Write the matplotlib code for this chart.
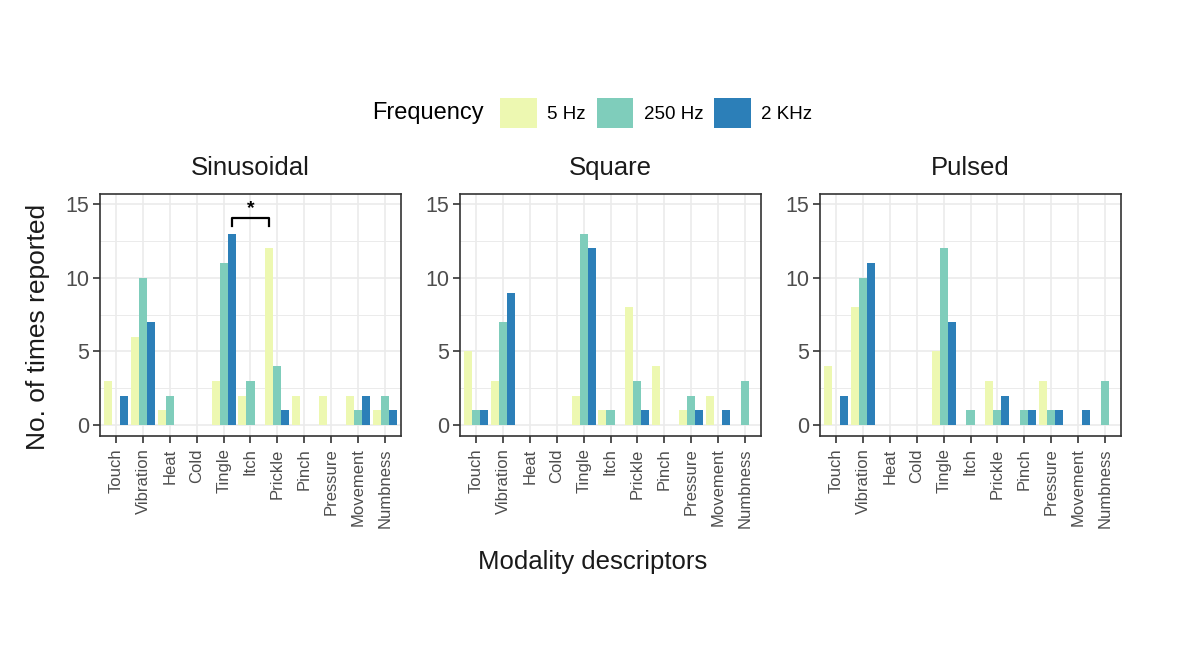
import numpy as np
import matplotlib
matplotlib.use("Agg")
import matplotlib.pyplot as plt
from matplotlib.patches import Patch
from matplotlib.offsetbox import HPacker

plt.rcParams['font.family'] = ['Liberation Sans', 'DejaVu Sans']

descriptors = ["Touch", "Vibration", "Heat", "Cold", "Tingle", "Itch",
               "Prickle", "Pinch", "Pressure", "Movement", "Numbness"]
frequencies = ["5 Hz", "250 Hz", "2 KHz"]
colors = ["#EDF8B1", "#7FCDBB", "#2C7FB8"]
panels = ["Sinusoidal", "Square", "Pulsed"]

# counts per descriptor: 5 Hz, 250 Hz, 2 KHz
sin_5hz = [3, 6, 1, 0, 3, 2, 12, 2, 2, 2, 1]
sin_250hz = [0, 10, 2, 0, 11, 3, 4, 0, 0, 1, 2]
sin_2khz = [2, 7, 0, 0, 13, 0, 1, 0, 0, 2, 1]

sq_5hz = [5, 3, 0, 0, 2, 1, 8, 4, 1, 2, 0]
sq_250hz = [1, 7, 0, 0, 13, 1, 3, 0, 2, 0, 3]
sq_2khz = [1, 9, 0, 0, 12, 0, 1, 0, 1, 1, 0]

pul_5hz = [4, 8, 0, 0, 5, 0, 3, 0, 3, 0, 0]
pul_250hz = [0, 10, 0, 0, 12, 1, 1, 1, 1, 0, 3]
pul_2khz = [2, 11, 0, 0, 7, 0, 2, 1, 1, 1, 0]

data = {
    "Sinusoidal": [sin_5hz, sin_250hz, sin_2khz],
    "Square": [sq_5hz, sq_250hz, sq_2khz],
    "Pulsed": [pul_5hz, pul_250hz, pul_2khz],
}

fig = plt.figure(figsize=(11.85, 6.67), dpi=100)
W, H = 1185, 667
lefts = [100, 460, 820]
ax_w, top, bottom = 301, 194, 436

x = np.arange(len(descriptors))
bw = 0.3
grid_c = "#EBEBEB"
text_c = "#4D4D4D"

for i, name in enumerate(panels):
    ax = fig.add_axes([lefts[i] / W, (H - bottom) / H, ax_w / W, (bottom - top) / H])
    for j, vals in enumerate(data[name]):
        ax.bar(x + (j - 1) * bw, vals, width=bw, color=colors[j], zorder=3)
    ax.set_xlim(-0.6, len(descriptors) - 0.4)
    ax.set_ylim(-0.75, 15.7)
    ax.set_yticks([0, 5, 10, 15])
    ax.set_yticks([2.5, 7.5, 12.5], minor=True)
    ax.set_xticks(x)
    ax.set_xticklabels(descriptors, rotation=90, fontsize=12, color=text_c)
    ax.tick_params(axis='y', labelsize=15.5, labelcolor=text_c, pad=3)
    ax.tick_params(axis='x', pad=4)
    ax.tick_params(which='major', length=5, color="#333333", width=1.2)
    ax.tick_params(which='minor', length=0)
    ax.grid(True, which='major', color=grid_c, linewidth=1.2, zorder=0)
    ax.grid(True, which='minor', axis='y', color=grid_c, linewidth=0.7, zorder=0)
    ax.set_axisbelow(True)
    for s in ax.spines.values():
        s.set_color("#333333")
        s.set_linewidth(1.2)
    ax.set_title(name, fontsize=18.5, color="#1A1A1A", pad=14)
    if i == 0:
        ax.set_ylabel("No. of times reported", fontsize=19, color="#1A1A1A")
        ax.yaxis.set_label_coords(-0.165, 0.45)
        # significance bracket between Tingle 2 KHz and Prickle 5 Hz
        x1, x2 = x[4] + bw, x[6] - bw
        yb = 14.1
        ax.plot([x1, x1, x2, x2], [yb - 0.6, yb, yb, yb - 0.6], color="black", lw=1.6, zorder=4)
        ax.text((x1 + x2) / 2, yb + 0.05, "*", ha='center', va='bottom', fontsize=14, fontweight='bold')

fig.text(593 / W, 1 - 562 / H, "Modality descriptors", ha='center', va='center', fontsize=18.5, color="#1A1A1A")

handles = [Patch(facecolor=c, edgecolor='none') for c in colors]
leg = fig.legend(handles, frequencies, loc='center', bbox_to_anchor=(592 / W, 1 - 113 / H),
                 ncol=3, frameon=False, fontsize=13.5, handlelength=1.95, handleheight=2.1,
                 handletextpad=0.55, columnspacing=0.6, title="Frequency",
                 title_fontsize=17)
# put the title inline with the entries
title_box = leg._legend_title_box
entries = leg._legend_handle_box
leg._legend_box._children = [HPacker(children=[title_box, entries], pad=0, sep=12, align="center")]

fig.savefig("out.png", dpi=100)
